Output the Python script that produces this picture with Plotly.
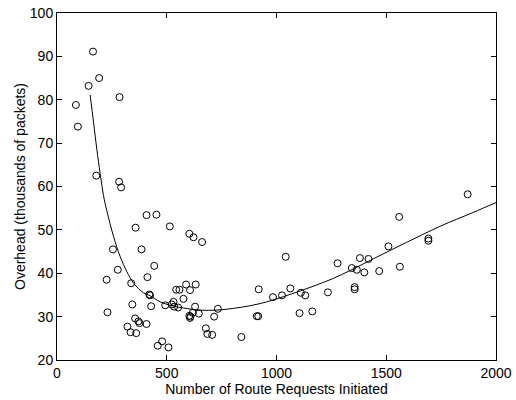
import plotly.graph_objects as go

# Scatter observations
req_x = [86, 95, 144, 164, 192, 285, 179, 283, 292, 408, 453, 514, 358, 603, 622, 661,
         255, 385, 443, 277, 412, 226, 338, 588, 632, 543, 558, 606, 421, 424, 576, 531,
         523, 343, 429, 493, 534, 552, 629, 733, 230, 646, 619, 603, 606, 608, 716, 356,
         371, 376, 408, 321, 335, 361, 678, 685, 707, 840, 479, 459, 508, 910, 917, 919,
         984, 1025, 1042, 1063, 1111, 1131, 1105, 1163, 1234, 1278, 1343, 1366, 1380, 1419,
         1400, 1356, 1356, 1468, 1510, 1559, 1562, 1692, 1692, 1871]
overhead_y = [78.8, 73.8, 83.2, 91.1, 85.0, 80.6, 62.5, 61.1, 59.8, 53.4, 53.5, 50.8, 50.5, 49.1, 48.3, 47.2,
              45.5, 45.5, 41.7, 40.8, 39.1, 38.5, 37.7, 37.4, 37.4, 36.2, 36.2, 36.1, 35.1, 34.9, 34.1, 33.4,
              32.8, 32.8, 32.4, 32.6, 32.3, 32.1, 32.3, 31.8, 31.0, 30.7, 30.9, 30.2, 29.7, 30.0, 30.0, 29.6,
              28.9, 28.5, 28.3, 27.7, 26.4, 26.2, 27.3, 26.0, 25.8, 25.3, 24.3, 23.3, 22.9, 30.1, 30.1, 36.3,
              34.5, 34.9, 43.8, 36.5, 35.5, 34.9, 30.8, 31.2, 35.6, 42.3, 41.2, 40.8, 43.5, 43.3,
              40.2, 36.8, 36.3, 40.5, 46.2, 53.0, 41.5, 48.0, 47.5, 58.2]

# Fitted curve
fit_x = [151, 167, 182, 212, 227, 258, 288, 318, 349, 394, 424, 470, 531, 576, 652, 728,
         803, 879, 955, 1031, 1107, 1183, 1258, 1334, 1440, 1592, 1744, 1895, 2000]
fit_y = [81.1, 74.6, 68.4, 57.9, 54.4, 48.4, 43.8, 40.4, 37.7, 35.5, 34.8, 33.4, 32.4, 32.0, 31.5, 31.5,
         31.9, 32.5, 33.4, 34.6, 35.9, 37.3, 38.8, 40.6, 43.3, 47.1, 50.8, 54.0, 56.3]

x_ticks = [0, 500, 1000, 1500, 2000]
y_ticks = [20, 30, 40, 50, 60, 70, 80, 90, 100]

fig = go.Figure()
fig.add_trace(go.Scatter(
    x=fit_x, y=fit_y, mode="lines",
    line=dict(color="black", width=1, shape="spline", smoothing=1.0),
    hoverinfo="skip", showlegend=False))
fig.add_trace(go.Scatter(
    x=req_x, y=overhead_y, mode="markers",
    marker=dict(symbol="circle-open", size=7, color="black", line=dict(width=1, color="black")),
    showlegend=False))

axis_common = dict(
    showline=True, linecolor="black", linewidth=1, mirror="ticks",
    ticks="inside", ticklen=5, tickcolor="black", tickwidth=1,
    showgrid=False, zeroline=False, automargin=False,
    tickfont=dict(family="Liberation Sans, Arial, sans-serif", size=14, color="black"),
)

fig.update_layout(
    width=516, height=400,
    margin=dict(l=57, r=20, t=13, b=40),
    paper_bgcolor="white", plot_bgcolor="white",
    font=dict(family="Liberation Sans, Arial, sans-serif", size=14, color="black"),
    xaxis=dict(range=[0, 2000], tickvals=x_ticks, ticktext=[str(v) for v in x_ticks],
               title=dict(text="Number of Route Requests Initiated", standoff=3,
                          font=dict(size=14)),
               **axis_common),
    yaxis=dict(range=[20, 100], tickvals=y_ticks, ticktext=[str(v) for v in y_ticks],
               title=dict(text="Overhead (thousands of packets)", standoff=0,
                          font=dict(size=14)),
               **axis_common),
)

fig.write_html("out.html")
